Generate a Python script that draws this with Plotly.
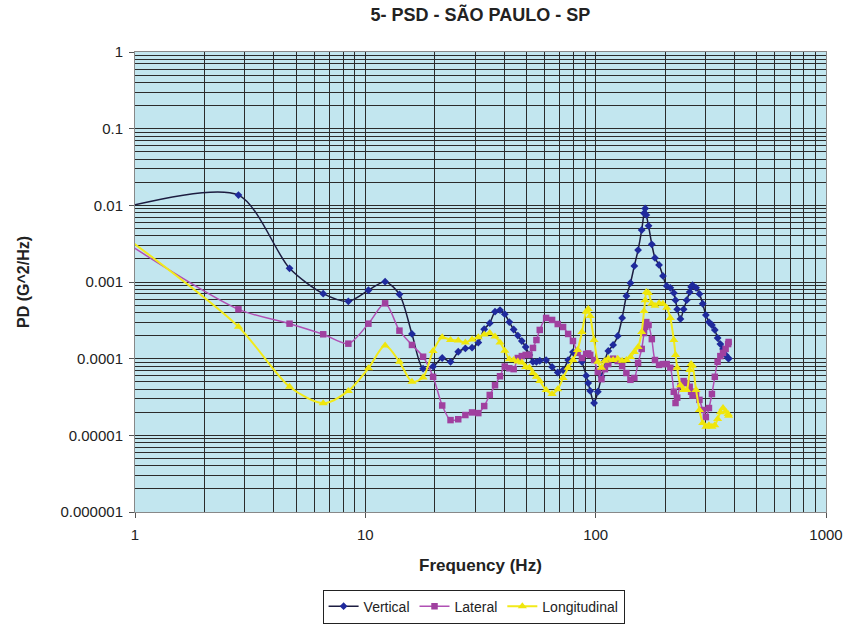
import plotly.graph_objects as go

FREQ = [0.9375, 2.8125, 4.6875, 6.5625, 8.4375, 10.3125, 12.1875, 14.0625, 15.9375, 17.8125,
        19.6875, 21.5625, 23.4375, 25.3125, 27.1875, 29.0625, 30.9375, 32.8125, 34.6875, 36.5625,
        38.4375, 40.3125, 42.1875, 44.0625, 45.9375, 47.8125, 49.6875, 51.5625, 53.4375, 55.3125,
        57.1875, 60.9375, 64.6875, 68.4375, 72.1875, 75.9375, 79.6875, 83.4375, 87.1875, 90.9375,
        92.8125, 94.6875, 98.4375, 102.1875, 105.9375, 109.6875, 113.4375, 119.0625, 124.6875, 130.3125,
        135.9375, 141.5625, 147.1875, 152.8125, 158.4375, 162.1875, 164.0625, 165.9375, 169.6875, 175.3125,
        180.9375, 188.4375, 195.9375, 203.4375, 210.9375, 218.4375, 222.1875, 225.9375, 233.4375, 240.9375,
        248.4375, 255.9375, 259.6875, 263.4375, 272.8125, 282.1875, 291.5625, 300.9375, 310.3125, 319.6875,
        329.0625, 338.4375, 347.8125, 357.1875, 366.5625, 375.9375, 377.8125]

VERTICAL = [0.0097, 0.0136, 0.00151, 0.000704, 0.00056, 0.00078, 0.00101, 0.00069, 0.00021, 0.000074,
            0.000079, 0.000102, 0.000091, 0.000123, 0.000136, 0.000139, 0.000162, 0.000242, 0.00029, 0.00041,
            0.00043, 0.00038, 0.0003, 0.00024, 0.0002, 0.00017, 0.000142, 0.000112, 0.000091, 0.000091,
            0.000094, 0.000096, 0.000078, 0.000066, 0.000071, 0.000096, 0.000122, 0.000126, 0.000091, 0.00006,
            0.000048, 0.000038, 0.0000264, 0.000037, 0.000058, 0.000094, 0.000126, 0.000151, 0.000198, 0.00034,
            0.000657, 0.00097, 0.00162, 0.00261, 0.00477, 0.0079, 0.0091, 0.0075, 0.0054, 0.0031,
            0.00206, 0.00167, 0.0012, 0.00089, 0.00084, 0.00072, 0.00058, 0.00044, 0.00033, 0.00044,
            0.00058, 0.00074, 0.00086, 0.00091, 0.00084, 0.0007, 0.00052, 0.00037, 0.0003, 0.000275,
            0.000237, 0.000186, 0.000155, 0.000134, 0.000112, 0.000102, 0.0001]

LATERAL = [0.0031, 0.00044, 0.000286, 0.000208, 0.000157, 0.000286, 0.000527, 0.000232, 0.000151, 0.000106,
           0.000058, 0.0000245, 0.0000158, 0.0000162, 0.0000184, 0.0000199, 0.0000195, 0.0000241, 0.0000336, 0.000045,
           0.000059, 0.000079, 0.000075, 0.000073, 0.000102, 0.000108, 0.000112, 0.000112, 0.000138, 0.000175,
           0.000237, 0.00034, 0.00032, 0.000283, 0.000259, 0.00021, 0.00017, 0.000119, 0.000102, 0.000115,
           0.000117, 0.000112, 0.000096, 0.000067, 0.000054, 0.000073, 0.000085, 0.0001, 0.000093, 0.00008,
           0.000065, 0.000053, 0.000056, 0.000088, 0.000134, 0.000216, 0.00026, 0.0003, 0.000275, 0.00018,
           0.000096, 0.000083, 0.000085, 0.000085, 0.000076, 0.000037, 0.0000264, 0.000031, 0.000044, 0.000051,
           0.000048, 0.000043, 0.000037, 0.000033, 0.0000335, 0.000029, 0.0000214, 0.0000173, 0.0000227, 0.0000346,
           0.000058, 0.000091, 0.000108, 0.000119, 0.000134, 0.000155, 0.000165]

LONGITUDINAL = [0.0036, 0.000261, 0.000043, 0.0000262, 0.000038, 0.000075, 0.000148, 0.000091, 0.00005, 0.000057,
                0.000126, 0.00019, 0.000175, 0.000172, 0.000162, 0.000178, 0.00019, 0.000207, 0.000216, 0.000194,
                0.000163, 0.000127, 0.000098, 0.000096, 0.000092, 0.000089, 0.000078, 0.000076, 0.000065, 0.000058,
                0.000051, 0.000039, 0.0000346, 0.00004, 0.000056, 0.000076, 0.000096, 0.00013, 0.000223, 0.00041,
                0.000445, 0.00036, 0.000175, 0.000091, 0.000076, 0.000094, 0.0001, 0.000096, 0.0001, 0.000094,
                0.000096, 0.000105, 0.000122, 0.000142, 0.000223, 0.00042, 0.00058, 0.00074, 0.00072, 0.00052,
                0.00049, 0.00053, 0.00052, 0.00046, 0.00034, 0.000175, 0.000112, 0.000076, 0.000045, 0.000039,
                0.000039, 0.000071, 0.000085, 0.000081, 0.000039, 0.0000214, 0.0000145, 0.0000129, 0.0000135, 0.0000129,
                0.0000135, 0.0000163, 0.00002, 0.0000227, 0.0000205, 0.000019, 0.000018]

X_TICKS = [1, 10, 100, 1000]
X_TICKTEXT = ["1", "10", "100", "1000"]
Y_TICKS = [1, 0.1, 0.01, 0.001, 0.0001, 0.00001, 0.000001]
Y_TICKTEXT = ["1", "0.1", "0.01", "0.001", "0.0001", "0.00001", "0.000001"]

TITLE = "5- PSD - SÃO PAULO - SP"
X_TITLE = "Frequency (Hz)"
Y_TITLE = "PD (G^2/Hz)"

FONT = "Liberation Sans, Arial, sans-serif"
NARROW = "Liberation Sans Narrow, Arial Narrow, Liberation Sans, sans-serif"
GRID = "#2b2b2b"
TEXT = "#222222"

x_minor = [m * 10 ** e for e in range(0, 3) for m in range(2, 10)]
y_minor = [m * 10.0 ** e for e in range(-6, 0) for m in range(2, 10)]

fig = go.Figure()
fig.add_trace(go.Scatter(
    x=FREQ, y=VERTICAL, name="Vertical", mode="lines+markers",
    line=dict(color="#1c1c40", width=1.5, shape="spline", smoothing=0.8),
    marker=dict(symbol="diamond", size=6, color="#1f2a9c")))
fig.add_trace(go.Scatter(
    x=FREQ, y=LATERAL, name="Lateral", mode="lines+markers",
    line=dict(color="#b050b4", width=1.5, shape="spline", smoothing=0.8),
    marker=dict(symbol="square", size=6.5, color="#a0409f")))
fig.add_trace(go.Scatter(
    x=FREQ, y=LONGITUDINAL, name="Longitudinal", mode="lines+markers",
    line=dict(color="#f2ea1a", width=2, shape="spline", smoothing=0.8),
    marker=dict(symbol="triangle-up", size=8, color="#efe60c")))

fig.update_layout(
    width=848, height=626,
    margin=dict(l=135, r=22, t=52, b=114, autoexpand=False),
    paper_bgcolor="white",
    plot_bgcolor="#c2e6ef",
    font=dict(family=FONT, size=14, color=TEXT),
    title=dict(text="<b>" + TITLE + "</b>", x=0.5665, xanchor="center", y=0.976, yanchor="middle",
               font=dict(family=NARROW, size=18, color=TEXT)),
    showlegend=True,
    legend=dict(orientation="h", x=0.49, xanchor="center", yref="container", y=0.031, yanchor="middle",
                bordercolor=TEXT, borderwidth=1, bgcolor="white",
                font=dict(family=FONT, size=14), tracegroupgap=0),
    annotations=[
        dict(text="<b>" + X_TITLE + "</b>", xref="paper", yref="paper", x=0.5, y=(512 - 565) / 460,
             xanchor="center", yanchor="middle", showarrow=False,
             font=dict(family=NARROW, size=17, color=TEXT)),
        dict(text="<b>" + Y_TITLE + "</b>", xref="paper", yref="paper", x=(23 - 135) / 691, y=0.5,
             xanchor="center", yanchor="middle", textangle=-90, showarrow=False,
             font=dict(family=FONT, size=16, color=TEXT)),
    ],
)

fig.update_xaxes(
    type="log", range=[0, 3], automargin=False,
    tickmode="array", tickvals=X_TICKS, ticktext=X_TICKTEXT,
    ticks="outside", ticklen=5, tickcolor="#555555", ticklabelstandoff=4,
    showgrid=True, gridcolor=GRID, gridwidth=1,
    minor=dict(tickmode="array", tickvals=x_minor, showgrid=True, gridcolor=GRID, gridwidth=1, ticks=""),
    showline=True, linecolor="#888888", mirror=True, zeroline=False,
    tickfont=dict(size=15, family=FONT),
)
fig.update_yaxes(
    type="log", range=[-6, 0], automargin=False,
    tickmode="array", tickvals=Y_TICKS, ticktext=Y_TICKTEXT,
    ticks="outside", ticklen=5, tickcolor="#555555", ticklabelstandoff=3,
    showgrid=True, gridcolor=GRID, gridwidth=1,
    minor=dict(tickmode="array", tickvals=y_minor, showgrid=True, gridcolor=GRID, gridwidth=1, ticks=""),
    showline=True, linecolor="#888888", mirror=True, zeroline=False,
    tickfont=dict(size=15, family=FONT),
)

fig.write_html("out.html")
